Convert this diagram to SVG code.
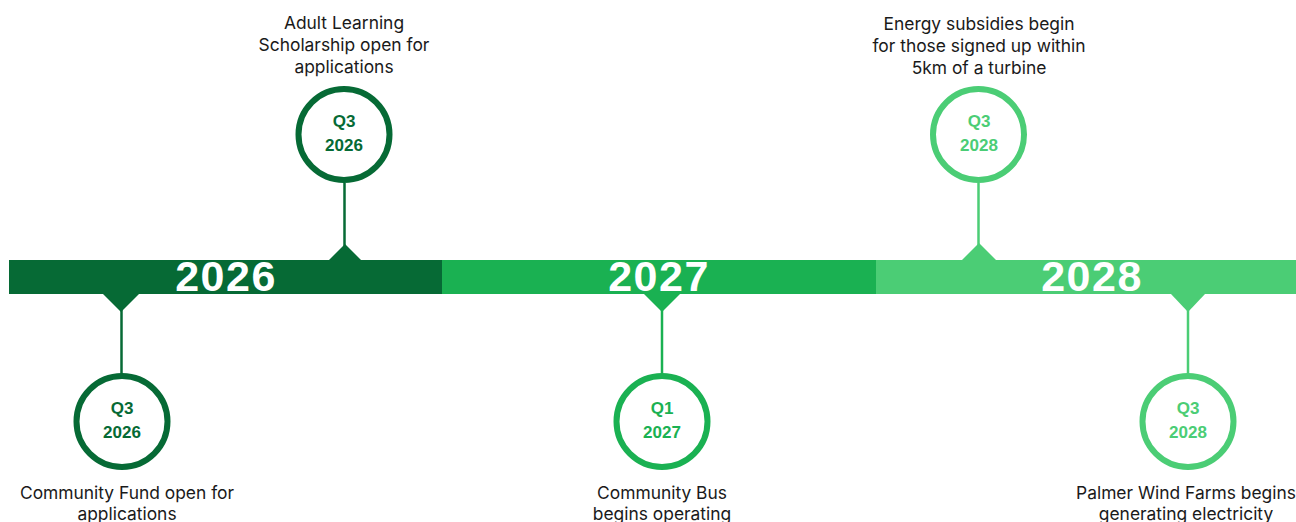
<svg xmlns="http://www.w3.org/2000/svg" width="1296" height="522" viewBox="0 0 1296 522">
<style>
.lbl{font-family:"Inter","Liberation Sans",sans-serif;font-size:17.4px;fill:#1a1a1a;text-anchor:middle}
.q{font-family:"Liberation Sans",sans-serif;font-weight:bold;font-size:17px;text-anchor:middle}
.yr{font-family:"Liberation Sans",sans-serif;font-weight:bold;font-size:43px;fill:#fff;text-anchor:middle;letter-spacing:1.5px}
.c1{stroke:#066a35}.c2{stroke:#1ab152}.c3{stroke:#4bcd75}
.f1{fill:#066a35}.f2{fill:#1ab152}.f3{fill:#4bcd75}
.ring{fill:#fff;stroke-width:6}
.stem{stroke-width:2.5;fill:none}
</style>
<rect width="1296" height="522" fill="#fff"/>
<g id="bar">
<rect x="9" y="260" width="433" height="34" class="f1"/>
<rect x="442" y="260" width="434" height="34" class="f2"/>
<rect x="876" y="260" width="420" height="34" class="f3"/>
<text x="226" y="291" class="yr">2026</text>
<text x="659" y="291" class="yr">2027</text>
<text x="1092" y="291" class="yr">2028</text>
</g>
<g id="connectors">
<polygon points="329,260 345,244 361,260" class="f1"/>
<line x1="344.5" y1="183" x2="344.5" y2="246" class="stem c1"/>
<polygon points="103,294 121,312 139,294" class="f1"/>
<line x1="121.5" y1="310" x2="121.5" y2="375" class="stem c1"/>
<polygon points="644,294 662,312 680,294" class="f2"/>
<line x1="662" y1="310" x2="662" y2="375" class="stem c2"/>
<polygon points="962,260 979,243 996,260" class="f3"/>
<line x1="978.5" y1="183" x2="978.5" y2="246" class="stem c3"/>
<polygon points="1171,294 1188,312 1205,294" class="f3"/>
<line x1="1188" y1="310" x2="1188" y2="375" class="stem c3"/>
</g>
<g id="m1">
<circle cx="344" cy="134.5" r="45.5" class="ring c1"/>
<text x="344" y="127" class="q f1">Q3</text>
<text x="344" y="151" class="q f1">2026</text>
<text x="344" y="29" class="lbl">Adult Learning</text>
<text x="344" y="51" class="lbl">Scholarship open for</text>
<text x="344" y="73" class="lbl">applications</text>
</g>
<g id="m2">
<circle cx="122" cy="421.5" r="45.5" class="ring c1"/>
<text x="122" y="414" class="q f1">Q3</text>
<text x="122" y="438" class="q f1">2026</text>
<text x="127" y="499" class="lbl">Community Fund open for</text>
<text x="127" y="520" class="lbl">applications</text>
</g>
<g id="m3">
<circle cx="662" cy="421.5" r="45.5" class="ring c2"/>
<text x="662" y="414" class="q f2">Q1</text>
<text x="662" y="438" class="q f2">2027</text>
<text x="662" y="499" class="lbl">Community Bus</text>
<text x="662" y="520" class="lbl">begins operating</text>
</g>
<g id="m4">
<circle cx="978.5" cy="134.5" r="45.5" class="ring c3"/>
<text x="979" y="127" class="q f3">Q3</text>
<text x="979" y="151" class="q f3">2028</text>
<text x="979" y="30" class="lbl">Energy subsidies begin</text>
<text x="979" y="52" class="lbl">for those signed up within</text>
<text x="979" y="74" class="lbl">5km of a turbine</text>
</g>
<g id="m5">
<circle cx="1188" cy="421.5" r="45.5" class="ring c3"/>
<text x="1188" y="414" class="q f3">Q3</text>
<text x="1188" y="438" class="q f3">2028</text>
<text x="1186" y="499" class="lbl">Palmer Wind Farms begins</text>
<text x="1186" y="520" class="lbl">generating electricity</text>
</g>
</svg>
